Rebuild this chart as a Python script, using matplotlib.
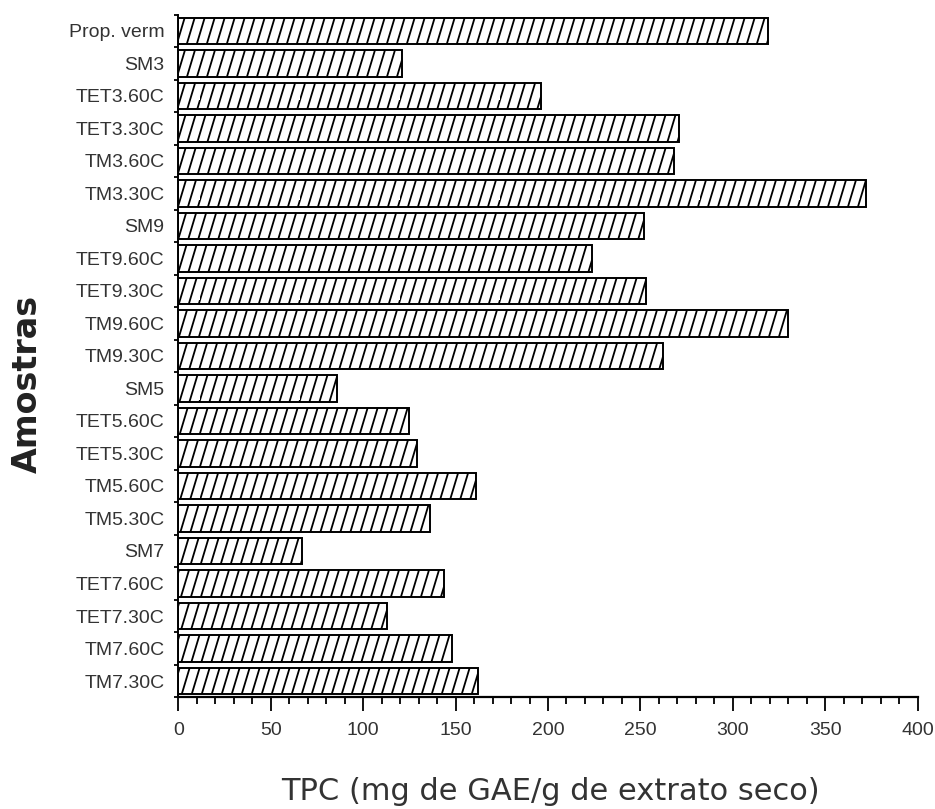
import numpy as np
import matplotlib
matplotlib.use("Agg")
import matplotlib.pyplot as plt
from matplotlib import hatch as mhatch
from matplotlib.path import Path
from matplotlib.ticker import MultipleLocator, FixedLocator

# Samples, listed top to bottom as they appear on the axis
samples = ["Prop. verm", "SM3", "TET3.60C", "TET3.30C", "TM3.60C", "TM3.30C",
           "SM9", "TET9.60C", "TET9.30C", "TM9.60C", "TM9.30C",
           "SM5", "TET5.60C", "TET5.30C", "TM5.60C", "TM5.30C",
           "SM7", "TET7.60C", "TET7.30C", "TM7.60C", "TM7.30C"]

# Total phenolic content (mg GAE / g dry extract)
tpc = [319, 121, 196, 271, 268, 372,
       252, 224, 253, 330, 262,
       86, 125, 129, 161, 136,
       67, 144, 113, 148, 162]

x_ticks = [0, 50, 100, 150, 200, 250, 300, 350, 400]


class SteepHatch(mhatch.HatchPatternBase):
    # '|' draws steep diagonals instead of vertical lines; the run per tile
    # is a whole number of line spacings so the pattern tiles seamlessly
    def __init__(self, hatch, density):
        self.num_lines = hatch.count('|') * 10
        self.num_vertices = self.num_lines * 4

    def set_vertices_and_codes(self, vertices, codes):
        n = self.num_lines
        run = 3 / n
        segs = []
        for x in np.arange(n) / n:
            for shift in (0.0, -1.0):
                segs.append([(x + shift, 0.0), (x + shift + run, 1.0)])
        vertices[:] = np.array(segs).reshape(-1, 2)
        codes[0::2] = Path.MOVETO
        codes[1::2] = Path.LINETO


mhatch._hatch_types[1] = SteepHatch

plt.rcParams['font.family'] = 'DejaVu Sans'
plt.rcParams['hatch.linewidth'] = 1.3
text_color = '#333333'

fig = plt.figure(figsize=(9.35, 8.09), dpi=100)
ax = fig.add_axes([0.1907, 0.1381, 0.7908, 0.8438])

pos = np.arange(len(samples))
ax.barh(pos, tpc, height=0.82, color='white', edgecolor='black',
        linewidth=1.4, hatch='|')

ax.set_xlim(0, 400)
ax.set_ylim(len(samples) - 0.5, -0.5)

ax.spines['top'].set_visible(False)
ax.spines['right'].set_visible(False)
ax.spines['left'].set_linewidth(1.4)
ax.spines['bottom'].set_linewidth(1.6)

ax.set_xticks(x_ticks)
ax.set_xticklabels([str(v) for v in x_ticks], family='Liberation Sans')
ax.xaxis.set_minor_locator(MultipleLocator(10))
ax.tick_params(axis='x', which='major', length=10, width=1.3, pad=8,
               labelsize=14, labelcolor=text_color)
ax.tick_params(axis='x', which='minor', length=5, width=1.3)

ax.set_yticks(pos)
ax.set_yticklabels(samples, family='Liberation Sans')
ax.yaxis.set_minor_locator(FixedLocator(np.arange(len(samples) + 1) - 0.5))
ax.tick_params(axis='y', which='major', length=0, pad=10,
               labelsize=14, labelcolor=text_color)
ax.tick_params(axis='y', which='minor', length=3, width=1.3)

ax.set_xlabel("TPC (mg de GAE/g de extrato seco)", fontsize=22,
              color=text_color)
ax.xaxis.set_label_coords(0.5027, -0.117)
ax.set_ylabel("Amostras", fontsize=24, fontweight='bold', color='#222222')
ax.yaxis.set_label_coords(-0.1815, 0.459)

fig.savefig("out.png", dpi=100)
